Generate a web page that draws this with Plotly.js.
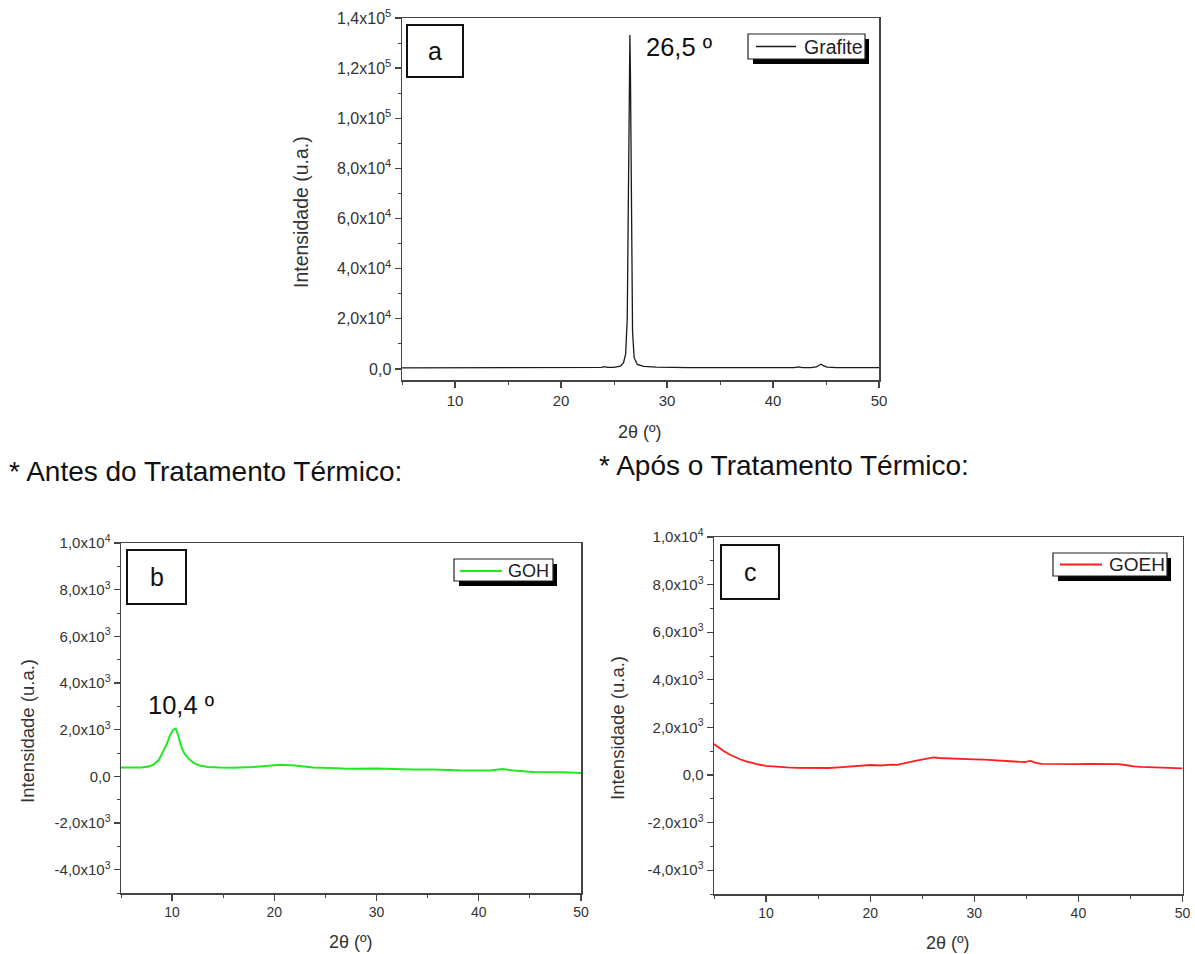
<!DOCTYPE html>
<html>
<head>
<meta charset="utf-8">
<script src="https://cdn.plot.ly/plotly-3.0.1.min.js"></script>
<style>html,body{margin:0;padding:0;background:#fff;}#chart{width:1195px;height:954px;}</style>
</head>
<body>
<div id="chart"></div>
<script>
// ---------- data ----------
const grafiteX = [5, 8, 12, 16, 20, 22, 23.8, 24.1, 24.4, 25, 25.6, 25.9, 26.1, 26.25, 26.35, 26.45, 26.5, 26.55, 26.65, 26.75, 26.9, 27.2, 27.8, 29, 32, 36, 40, 42, 42.4, 42.8, 43.6, 44.1, 44.35, 44.55, 44.75, 45.1, 46, 48, 50];
const grafiteY = [450, 450, 420, 400, 430, 470, 600, 900, 620, 650, 1100, 2500, 6000, 20000, 60000, 115000, 133200, 118000, 55000, 15000, 4500, 1800, 1000, 700, 550, 500, 480, 520, 800, 520, 560, 800, 1500, 1900, 1300, 700, 550, 520, 500];

const gohX = [5, 6, 7, 7.8, 8.2, 8.7, 9.1, 9.5, 9.8, 10.1, 10.35, 10.6, 10.9, 11.2, 11.6, 12.1, 12.7, 13.5, 14.7, 16, 17.9, 19.5, 20.6, 22, 23.8, 25.5, 27.1, 30, 32, 33.6, 35.5, 37, 38.5, 41.1, 42.3, 43.4, 45.3, 48.2, 50];
const gohY = [375, 370, 380, 430, 515, 700, 1045, 1400, 1760, 2000, 2050, 1750, 1260, 980, 760, 580, 460, 400, 375, 370, 400, 460, 500, 460, 375, 360, 330, 340, 310, 290, 290, 270, 245, 246, 315, 245, 185, 172, 142];

const goehX = [5, 5.5, 6, 6.5, 7, 7.5, 8, 8.5, 9, 9.5, 10, 11, 12, 13, 14, 15, 16, 17, 18, 19, 20, 21, 22, 22.6, 23.3, 24.2, 25.2, 26.1, 26.6, 27.2, 28.2, 29.2, 30, 31, 31.8, 33, 34.1, 34.8, 35.4, 35.9, 36.5, 37.5, 38.5, 40, 41, 42, 43, 43.8, 44.5, 45.3, 46, 47, 48, 49, 50];
const goehY = [1300, 1130, 990, 860, 750, 660, 580, 520, 470, 420, 385, 345, 320, 300, 290, 280, 295, 320, 350, 385, 420, 400, 440, 425, 480, 580, 670, 740, 715, 700, 685, 670, 660, 650, 630, 600, 560, 540, 590, 510, 465, 455, 460, 460, 470, 465, 480, 460, 420, 360, 340, 330, 310, 300, 280];

const xTickVals = [10, 20, 30, 40, 50];
const xTickText = ['10', '20', '30', '40', '50'];
const aTickVals = [0, 20000, 40000, 60000, 80000, 100000, 120000, 140000];
const aTickText = ['0,0', '2,0x10<sup>4</sup>', '4,0x10<sup>4</sup>', '6,0x10<sup>4</sup>', '8,0x10<sup>4</sup>', '1,0x10<sup>5</sup>', '1,2x10<sup>5</sup>', '1,4x10<sup>5</sup>'];
const bcTickVals = [-4000, -2000, 0, 2000, 4000, 6000, 8000, 10000];
const bcTickText = ['-4,0x10<sup>3</sup>', '-2,0x10<sup>3</sup>', '0,0', '2,0x10<sup>3</sup>', '4,0x10<sup>3</sup>', '6,0x10<sup>3</sup>', '8,0x10<sup>3</sup>', '1,0x10<sup>4</sup>'];

const seriesNames = ['Grafite', 'GOH', 'GOEH'];
const panelLetters = ['a', 'b', 'c'];
const peakLabels = ['26,5 º', '10,4 º'];
const headings = ['* Antes do Tratamento Térmico:', '* Após o Tratamento Térmico:'];
const yTitle = 'Intensidade (u.a.)';
const xTitle = '2θ (º)';

// ---------- helpers (pixel -> paper) ----------
const W = 1195, H = 954;
const px = p => p / W;
const py = p => 1 - p / H;
const FONT = 'Liberation Sans, Arial, sans-serif';

const colors = ['#1a1a1a', '#22e822', '#ff1f1f'];

const traces = [
  {x: grafiteX, y: grafiteY, xaxis: 'x', yaxis: 'y', type: 'scatter', mode: 'lines', name: seriesNames[0], line: {color: colors[0], width: 1.3}, showlegend: false},
  {x: gohX, y: gohY, xaxis: 'x2', yaxis: 'y2', type: 'scatter', mode: 'lines', name: seriesNames[1], line: {color: colors[1], width: 2}, showlegend: false},
  {x: goehX, y: goehY, xaxis: 'x3', yaxis: 'y3', type: 'scatter', mode: 'lines', name: seriesNames[2], line: {color: colors[2], width: 1.8}, showlegend: false}
];

function xAxis(domain, anchor, fs) {
  return {
    domain: domain, anchor: anchor, range: [5, 50],
    tickmode: 'array', tickvals: xTickVals, ticktext: xTickText,
    showline: true, linecolor: '#444', linewidth: 1.5, mirror: true,
    ticks: 'outside', ticklen: 6, tickwidth: 1.3, tickcolor: '#444',
    minor: {ticks: 'outside', ticklen: 3, tickwidth: 1, tickcolor: '#444', tickmode: 'linear', tick0: 0, dtick: 5},
    showgrid: false, zeroline: false,
    tickfont: {family: FONT, size: fs, color: '#333'}
  };
}
function yAxis(domain, anchor, range, vals, text, minorStep, fs) {
  return {
    domain: domain, anchor: anchor, range: range,
    tickmode: 'array', tickvals: vals, ticktext: text,
    showline: true, linecolor: '#444', linewidth: 1.5, mirror: true,
    ticks: 'outside', ticklen: 6, tickwidth: 1.3, tickcolor: '#444',
    minor: {ticks: 'outside', ticklen: 3, tickwidth: 1, tickcolor: '#444', tickmode: 'linear', tick0: 0, dtick: minorStep},
    showgrid: false, zeroline: false,
    tickfont: {family: FONT, size: fs, color: '#333'}
  };
}

const layout = {
  width: W, height: H,
  margin: {l: 0, r: 0, t: 0, b: 0},
  paper_bgcolor: '#fff', plot_bgcolor: '#fff',
  showlegend: false,
  xaxis: xAxis([px(402), px(879)], 'y', 15),
  yaxis: yAxis([py(380), py(18)], 'x', [-4400, 140000], aTickVals, aTickText, 10000, 16),
  xaxis2: xAxis([px(121), px(581)], 'y2', 14),
  yaxis2: yAxis([py(893), py(543)], 'x2', [-5000, 10000], bcTickVals, bcTickText, 1000, 15),
  xaxis3: xAxis([px(714), px(1182.5)], 'y3', 14),
  yaxis3: yAxis([py(894), py(537)], 'x3', [-5000, 10000], bcTickVals, bcTickText, 1000, 15),
  shapes: [],
  annotations: []
};

// panel letter boxes
const boxes = [[407, 25, 463, 77], [127, 550, 186, 604], [721, 545, 779, 599]];
boxes.forEach((b, i) => {
  layout.shapes.push({type: 'rect', xref: 'paper', yref: 'paper', x0: px(b[0]), x1: px(b[2]), y0: py(b[3]), y1: py(b[1]), line: {color: '#111', width: 2}, fillcolor: 'rgba(0,0,0,0)'});
  layout.annotations.push({xref: 'paper', yref: 'paper', x: px((b[0] + b[2]) / 2), y: py((b[1] + b[3]) / 2), xanchor: 'center', yanchor: 'middle', showarrow: false, text: panelLetters[i], font: {family: FONT, size: 25, color: '#111'}});
});

// legends with shadow: [x0, y0, x1, y1, lineX0, lineX1, lineY, textX, fontSize]
const legs = [[748, 34, 865, 59, 756, 796, 46.5, 802, 19.5], [454, 559, 553, 581, 460, 502, 571, 506, 18], [1053, 553, 1167, 576, 1060, 1102, 564.5, 1107, 19]];
legs.forEach((l, i) => {
  layout.shapes.push({type: 'rect', xref: 'paper', yref: 'paper', x0: px(l[0] + 5), x1: px(l[2] + 4), y0: py(l[3] + 5), y1: py(l[1] + 5), line: {width: 0}, fillcolor: '#000'});
  layout.shapes.push({type: 'rect', xref: 'paper', yref: 'paper', x0: px(l[0]), x1: px(l[2]), y0: py(l[3]), y1: py(l[1]), line: {color: '#222', width: 1.2}, fillcolor: '#fff'});
  layout.shapes.push({type: 'line', xref: 'paper', yref: 'paper', x0: px(l[4]), x1: px(l[5]), y0: py(l[6]), y1: py(l[6]), line: {color: colors[i], width: i === 0 ? 1.3 : 1.8}});
  layout.annotations.push({xref: 'paper', yref: 'paper', x: px(l[7]), y: py(l[6]), xanchor: 'left', yanchor: 'middle', showarrow: false, text: seriesNames[i], font: {family: FONT, size: l[8], color: '#222'}});
});

// peak labels
layout.annotations.push({xref: 'paper', yref: 'paper', x: px(644), y: py(47), xanchor: 'left', yanchor: 'middle', showarrow: false, text: peakLabels[0], font: {family: FONT, size: 25.5, color: '#111'}});
layout.annotations.push({xref: 'paper', yref: 'paper', x: px(146), y: py(705), xanchor: 'left', yanchor: 'middle', showarrow: false, text: peakLabels[1], font: {family: FONT, size: 25.5, color: '#111'}});

// headings
layout.annotations.push({xref: 'paper', yref: 'paper', x: px(7), y: py(472), xanchor: 'left', yanchor: 'middle', showarrow: false, text: headings[0], font: {family: FONT, size: 28, color: '#111'}});
layout.annotations.push({xref: 'paper', yref: 'paper', x: px(597), y: py(465), xanchor: 'left', yanchor: 'middle', showarrow: false, text: headings[1], font: {family: FONT, size: 28, color: '#111'}});

// axis titles
const yTitles = [[301, 212, 19.5], [27, 731, 18.5], [617, 728, 18.5]];
yTitles.forEach(t => layout.annotations.push({xref: 'paper', yref: 'paper', x: px(t[0]), y: py(t[1]), xanchor: 'center', yanchor: 'middle', textangle: -90, showarrow: false, text: yTitle, font: {family: FONT, size: t[2], color: '#333'}}));
const xTitles = [[640, 432, 18], [351, 942, 18], [948, 943, 18]];
xTitles.forEach(t => layout.annotations.push({xref: 'paper', yref: 'paper', x: px(t[0]), y: py(t[1]), xanchor: 'center', yanchor: 'middle', showarrow: false, text: xTitle, font: {family: FONT, size: t[2], color: '#333'}}));

Plotly.newPlot('chart', traces, layout, {displayModeBar: false, staticPlot: true});
</script>
</body>
</html>
